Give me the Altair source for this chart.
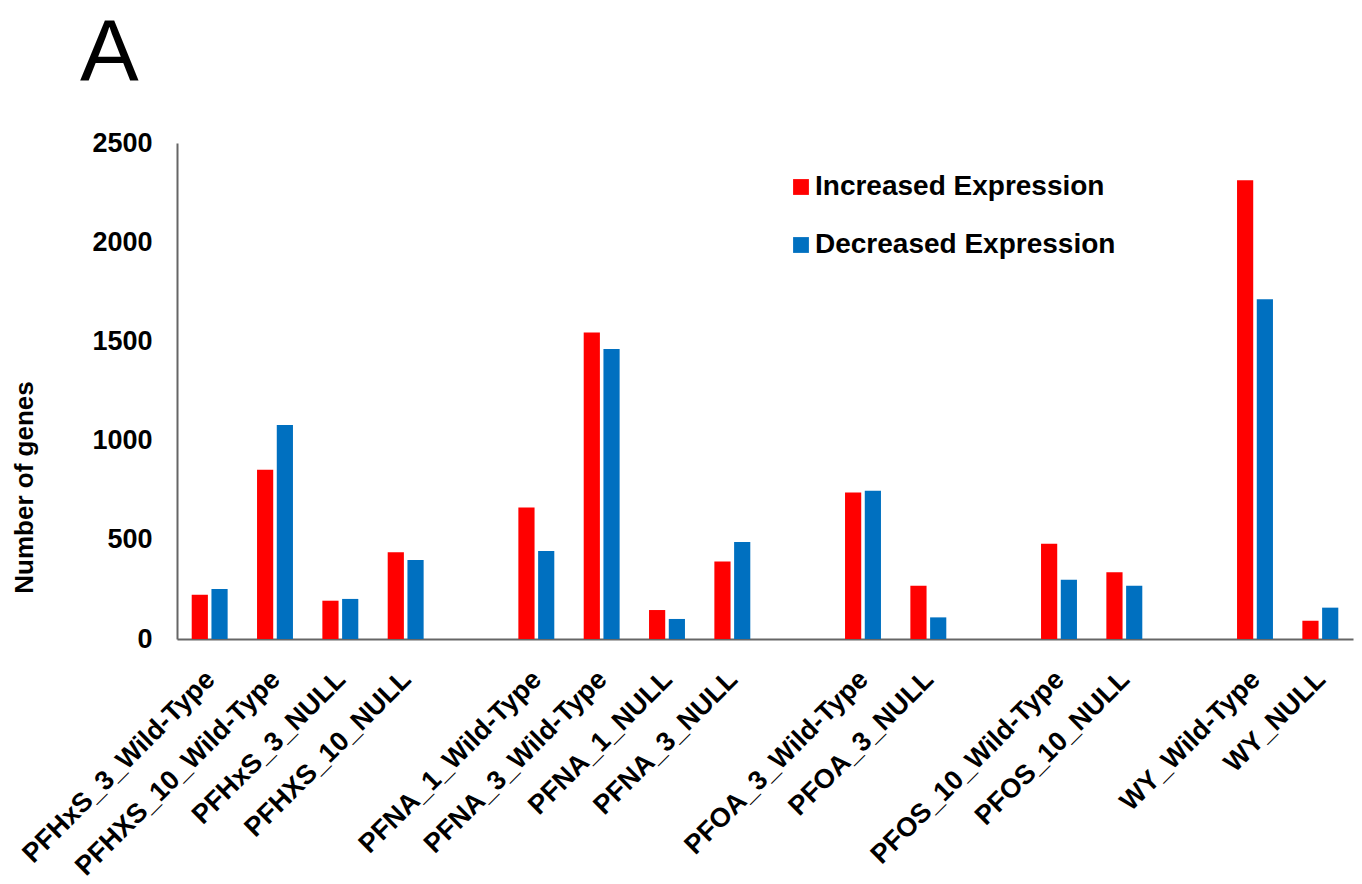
import altair as alt
import pandas as pd

# Treatment groups in plotting order; "gap" slots leave space between compounds
slots = [
    "PFHxS_3_Wild-Type", "PFHXS_10_Wild-Type", "PFHxS_3_NULL", "PFHXS_10_NULL",
    "gap1",
    "PFNA_1_Wild-Type", "PFNA_3_Wild-Type", "PFNA_1_NULL", "PFNA_3_NULL",
    "gap2",
    "PFOA_3_Wild-Type", "PFOA_3_NULL",
    "gap3",
    "PFOS_10_Wild-Type", "PFOS_10_NULL",
    "gap4",
    "WY_Wild-Type", "WY_NULL",
]
groups = [s for s in slots if not s.startswith("gap")]

increased = [223, 853, 193, 437, 663, 1545, 146, 390, 739, 269, 480, 336, 2312, 92]
decreased = [252, 1079, 202, 398, 443, 1462, 101, 489, 747, 109, 299, 269, 1712, 158]

series_names = ["Increased Expression", "Decreased Expression"]
series_colors = ["#FF0000", "#0070C0"]

rows = []
for g, up, down in zip(groups, increased, decreased):
    rows.append({"group": g, "series": series_names[0], "genes": up})
    rows.append({"group": g, "series": series_names[1], "genes": down})
df = pd.DataFrame(rows)

FONT = "Liberation Sans"
W, H = 1176, 496

bars = alt.Chart(df).mark_bar().encode(
    x=alt.X(
        "group:N",
        scale=alt.Scale(domain=slots, paddingInner=0.45, paddingOuter=0.225),
        axis=alt.Axis(
            title=None,
            labelAngle=-45,
            labelAlign="right",
            labelBaseline="middle",
            labelFontSize=27,
            labelFontWeight="bold",
            labelFont=FONT,
            labelColor="#000000",
            labelPadding=36,
            labelOffset=1,
            labelExpr="indexof(datum.value, 'gap') == 0 ? '' : datum.value",
            ticks=False,
            domainColor="#666666",
            domainWidth=2,
            labelOverlap=False,
            labelLimit=0,
        ),
    ),
    xOffset=alt.XOffset(
        "series:N",
        sort=series_names,
        scale=alt.Scale(paddingInner=0.18, paddingOuter=0),
    ),
    y=alt.Y(
        "genes:Q",
        scale=alt.Scale(domain=[0, 2500], nice=False),
        axis=alt.Axis(
            title="Number of genes",
            titleFontSize=26,
            titleFontWeight="bold",
            titleFont=FONT,
            titleColor="#000000",
            titleAngle=-90,
            titleAlign="center",
            titleBaseline="middle",
            titleX=-153,
            titleY=344,
            values=[0, 500, 1000, 1500, 2000, 2500],
            format="d",
            labelFontSize=27,
            labelFontWeight="bold",
            labelFont=FONT,
            labelColor="#000000",
            labelPadding=25,
            ticks=False,
            grid=False,
            domainColor="#666666",
            domainWidth=2,
        ),
    ),
    color=alt.Color(
        "series:N",
        sort=series_names,
        scale=alt.Scale(domain=series_names, range=series_colors),
        legend=alt.Legend(
            title=None,
            orient="none",
            legendX=610,
            legendY=30,
            padding=0,
            symbolType="square",
            symbolSize=250,
            symbolStrokeWidth=0,
            labelFontSize=28,
            labelFontWeight="bold",
            labelFont=FONT,
            labelColor="#000000",
            labelOffset=0,
            rowPadding=30,
            labelLimit=0,
        ),
    ),
)

panel = alt.Chart(pd.DataFrame({"t": ["A"]})).mark_text(
    align="left", baseline="alphabetic", fontSize=88, font=FONT, color="#000000"
).encode(x=alt.value(-97), y=alt.value(-62), text="t:N")

chart = alt.layer(bars, panel).properties(
    width=W,
    height=H,
    autosize=alt.AutoSizeParams(type="none"),
    padding={"left": 177, "top": 143, "right": 9, "bottom": 245},
    background="#FFFFFF",
).configure_view(stroke=None)

chart.save("out.html", embed_options={"renderer": "svg", "actions": False})
